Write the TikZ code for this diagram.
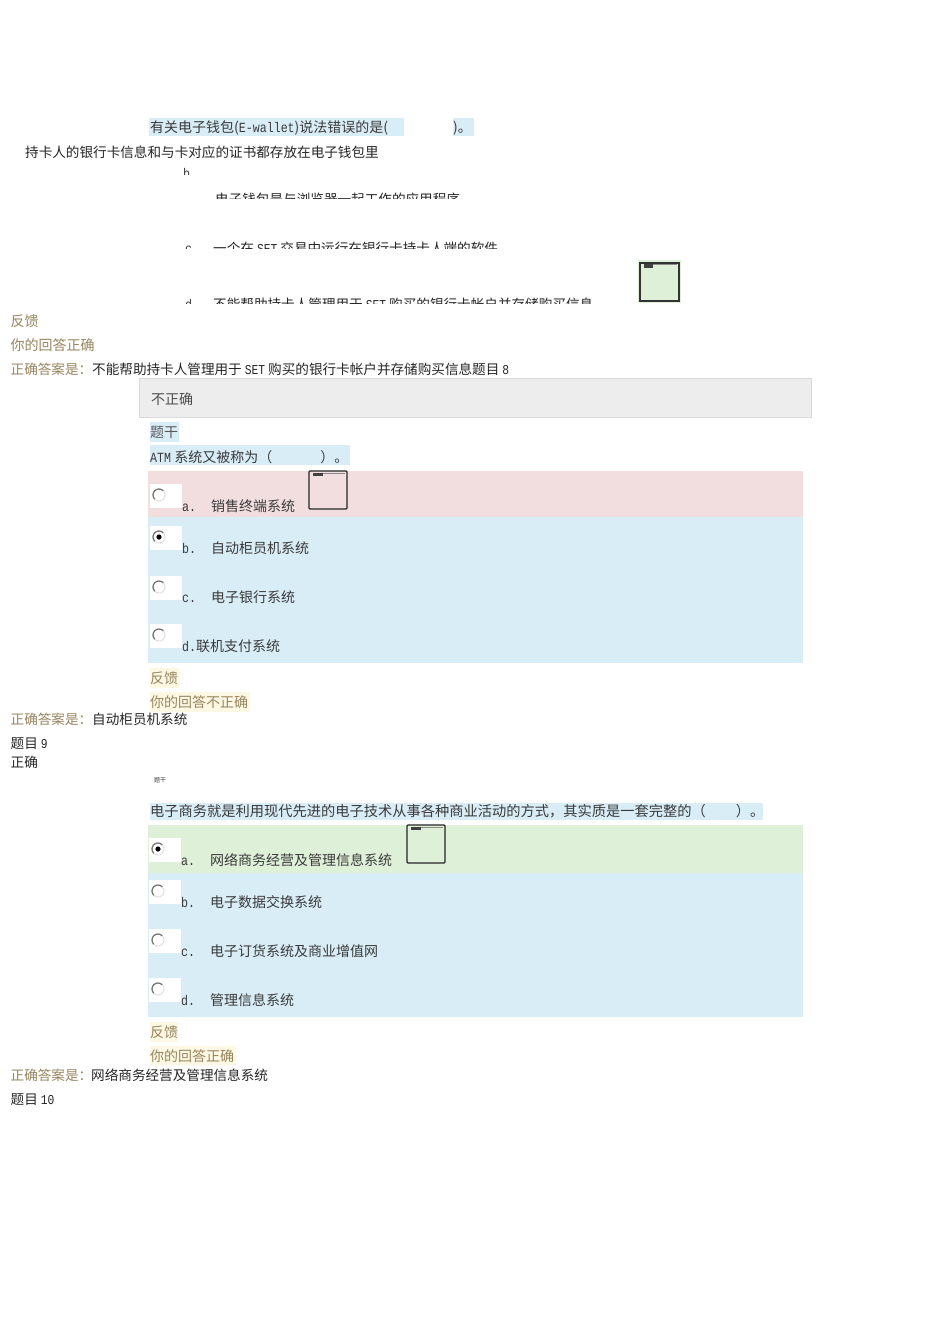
\documentclass[tikz,border=0pt]{standalone}
\usepackage{fontspec}
\setmainfont{Noto Sans CJK SC}[Scale=1.0]
\newfontfamily\latf{Liberation Mono}[FakeStretch=0.83]
\newcommand\lt[1]{{\latf #1}}
\definecolor{qblue}{HTML}{D9EDF7}
\definecolor{qred}{HTML}{F2DEDE}
\definecolor{qgreen}{HTML}{DFF0D8}
\definecolor{qyellow}{HTML}{FCF8E3}
\definecolor{qbrown}{HTML}{97855F}
\definecolor{qtext}{HTML}{3A3A3A}
\tikzset{
  x=1pt,y=-1pt,
  txt/.style={anchor=base west,inner sep=0pt,text=qtext,font=\fontsize{14}{16}\selectfont},
  txtk/.style={txt,text=black!85,font=\fontsize{13.6}{16}\selectfont},
  fb/.style={txt,text=qbrown,font=\fontsize{14}{16}\selectfont},
  fbs/.style={txt,text=qbrown,font=\fontsize{13.6}{16}\selectfont},
  radiobox/.style={fill=white,draw=none},
  radiolight/.style={draw=black!12,line width=1pt},
  radiodark/.style={draw=black!55,line width=1.2pt},
}
\newcommand\radio[3]{% x y checked
  \fill[radiobox] (#1-9,#2-11) rectangle (#1+23,#2+13);
  \draw[radiolight] (#1,#2) circle[radius=6];
  \draw[radiodark] (#1+4.24,#2-4.24) arc[start angle=45,end angle=225,radius=6pt];
  \ifnum#3=1 \fill[black] (#1,#2) circle[radius=2.6];\fi
}
\newcommand\thumb[4]{% x0 y0 x1 y1
  \draw[black!85,line width=1.2pt,rounded corners=1pt] (#1,#2) rectangle (#3,#4);
  \fill[black!75] (#1+4,#2+2) rectangle (#1+14,#2+5);
  \fill[black!45] (#1+14,#2+2) rectangle (#3-2,#2+3);
}
\begin{document}
\begin{tikzpicture}
\useasboundingbox (0,0) rectangle (950,1318);
\fill[white] (0,0) rectangle (950,1318);
% --- question 7 ---
\fill[qblue] (149,118) rectangle (404,136);
\fill[qblue] (453,118) rectangle (474,136);
\node[txt] (q7a) at (150,132) {有关电子钱包(\lt{E-wallet})说法错误的是(};
\node[txt] (q7b) at (453,132) {)。};
\node[txtk] (o7a) at (25,157) {持卡人的银行卡信息和与卡对应的证书都存放在电子钱包里};
\begin{scope}
  \clip (180,160) rectangle (600,174);
  \node[txt] (l7b) at (183,178) {\lt{b.}};
\end{scope}
\begin{scope}
  \clip (205,185) rectangle (600,198);
  \node[txtk] (o7b) at (215,204) {电子钱包是与浏览器一起工作的应用程序};
\end{scope}
\begin{scope}
  \clip (180,235) rectangle (600,248);
  \node[txt] (l7c) at (185,253) {\lt{c.}};
  \node[txtk] (o7c) at (213,253) {一个在 \lt{SET} 交易中运行在银行卡持卡人端的软件};
\end{scope}
\begin{scope}
  \clip (180,290) rectangle (600,303);
  \node[txt] (l7d) at (185,309) {\lt{d.}};
  \node[txtk] (o7d) at (213,309) {不能帮助持卡人管理用于 \lt{SET} 购买的银行卡帐户并存储购买信息};
\end{scope}
\fill[qgreen] (638,260) rectangle (681,303);
\draw[black!80,line width=1.3pt] (640,263) rectangle (679,301);
\fill[black!75] (644,264) rectangle (653,268);
\fill[black!45] (653,264) rectangle (677,265);
\node[fb] (f7) at (10.5,326) {反馈};
\node[fb] (f7r) at (10.5,350) {你的回答正确};
\node[fbs] (a7l) at (10.5,374) {正确答案是：};
\node[txtk] (a7) at (92,374) {不能帮助持卡人管理用于 \lt{SET} 购买的银行卡帐户并存储购买信息题目 \lt{8}};
% --- question 8 ---
\fill[black!7] (139,378) rectangle (811,417);
\draw[black!14,line width=.8pt] (139,378) rectangle (811,417);
\node[txt,text=black!70] (st8) at (151,404) {不正确};
\fill[qblue] (150,422) rectangle (179,442);
\node[txt,text=black!65] (h8) at (150,437) {题干};
\fill[qblue] (150,445) rectangle (350,465);
\node[txt] (q8) at (150,462) {\lt{ATM} 系统又被称为（\hspace{48pt}）。};
\fill[qred] (148,471) rectangle (803,517);
\fill[qblue] (148,517) rectangle (803,663);
\radio{159}{495}{0}
\radio{159}{537}{1}
\radio{159}{587}{0}
\radio{159}{635}{0}
\thumb{309}{471}{347}{509}
\node[txt] (l8a) at (182,511) {\lt{a.}};
\node[txt] (o8a) at (211,511) {销售终端系统};
\node[txt] (l8b) at (182,553) {\lt{b.}};
\node[txt] (o8b) at (211,553) {自动柜员机系统};
\node[txt] (l8c) at (182,602) {\lt{c.}};
\node[txt] (o8c) at (211,602) {电子银行系统};
\node[txt] (l8d) at (182,651) {\lt{d.}};
\node[txt] (o8d) at (196,651) {联机支付系统};
\fill[qyellow] (150,668) rectangle (179,688);
\fill[qyellow] (150,692) rectangle (250,712);
\node[fb] (f8) at (150,683) {反馈};
\node[fb] (f8r) at (150,707) {你的回答不正确};
\node[fbs] (a8l) at (10.5,724) {正确答案是：};
\node[txtk] (a8) at (92,724) {自动柜员机系统};
\node[txtk] (t9) at (10.5,748) {题目 \lt{9}};
\node[txtk] (st9) at (10.5,767) {正确};
% --- question 9 ---
\node[txt,font=\fontsize{6}{7}\selectfont] (h9) at (154,782) {题干};
\fill[qblue] (150,803) rectangle (763,820);
\node[txt,font=\fontsize{14.25}{16}\selectfont] (q9) at (150,816) {电子商务就是利用现代先进的电子技术从事各种商业活动的方式，其实质是一套完整的（\hspace{30pt}）。};
\fill[qgreen] (148,825) rectangle (803,873);
\fill[qblue] (148,873) rectangle (803,1017);
\radio{158}{849}{1}
\radio{158}{891}{0}
\radio{158}{940}{0}
\radio{158}{989}{0}
\thumb{407}{825}{445}{863}
\node[txt] (l9a) at (181,865) {\lt{a.}};
\node[txt] (o9a) at (210,865) {网络商务经营及管理信息系统};
\node[txt] (l9b) at (181,907) {\lt{b.}};
\node[txt] (o9b) at (210,907) {电子数据交换系统};
\node[txt] (l9c) at (181,956) {\lt{c.}};
\node[txt] (o9c) at (210,956) {电子订货系统及商业增值网};
\node[txt] (l9d) at (181,1005) {\lt{d.}};
\node[txt] (o9d) at (210,1005) {管理信息系统};
\fill[qyellow] (150,1022) rectangle (178,1042);
\fill[qyellow] (150,1046) rectangle (236,1065);
\node[fb] (f9) at (150,1037) {反馈};
\node[fb] (f9r) at (150,1061) {你的回答正确};
\node[fbs] (a9l) at (10.5,1080) {正确答案是：};
\node[txtk] (a9) at (91,1080) {网络商务经营及管理信息系统};
\node[txtk] (t10) at (10.5,1104) {题目 \lt{10}};
\end{tikzpicture}
\end{document}
